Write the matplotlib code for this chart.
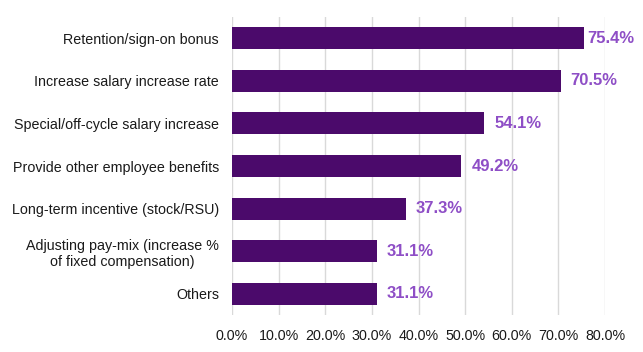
import matplotlib
matplotlib.use("Agg")
import matplotlib.pyplot as plt
from matplotlib.ticker import PercentFormatter

plt.rcParams['font.family'] = ['Liberation Sans', 'DejaVu Sans']

categories = [
    "Retention/sign-on bonus",
    "Increase salary increase rate",
    "Special/off-cycle salary increase",
    "Provide other employee benefits",
    "Long-term incentive (stock/RSU)",
    "Adjusting pay-mix (increase %\nof fixed compensation)",
    "Others",
]
values = [75.4, 70.5, 54.1, 49.2, 37.3, 31.1, 31.1]
xticks = [0, 10, 20, 30, 40, 50, 60, 70, 80]

bar_color = "#4b0a6b"
label_color = "#8e4ec6"

W, H = 643, 352
fig = plt.figure(figsize=(W/100, H/100), dpi=100)
ax = fig.add_axes([232/W, 1-315/H, (605-232)/W, (315-17)/H])

y = list(range(len(categories)))
ax.barh(y, values, height=0.52, color=bar_color, zorder=3)
ax.set_ylim(len(categories)-0.5, -0.5)
ax.set_xlim(0, 80)
ax.set_yticks(y)
ax.set_yticklabels(categories, fontsize=10.3, ha='right', multialignment='center')
ax.set_xticks(xticks)
ax.xaxis.set_major_formatter(PercentFormatter(decimals=1))
ax.tick_params(axis='x', labelsize=10.3, length=0, pad=10)
ax.tick_params(axis='y', length=0, pad=9.4)
for lab in ax.get_xticklabels() + ax.get_yticklabels():
    lab.set_color("#1a1a1a")

ax.grid(axis='x', color="#d9d9d9", linewidth=1, zorder=0)
for s in ax.spines.values():
    s.set_visible(False)

fig.canvas.draw()
renderer = fig.canvas.get_renderer()
for yi, v in zip(y, values):
    t = ax.annotate(f"{v:.1f}%", xy=(v, yi), xytext=(7.2, 0), textcoords='offset points',
                    va='center', ha='left', fontsize=12, fontweight='bold', color=label_color)
    bb = t.get_window_extent(renderer)
    overflow = bb.x1 - (W - 9)
    if overflow > 0:
        t.set_position((7.2 - overflow * 72 / 100, 0))

fig.savefig("out.png", dpi=100)
